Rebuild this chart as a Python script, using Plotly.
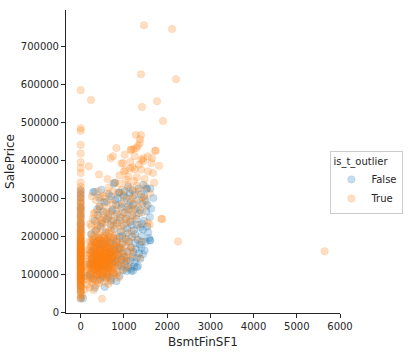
import plotly.graph_objects as go

# ---------------- data ----------------
# houses with BsmtFinSF1 == 0
blue_zero_y = [36000, 55000, 68000, 85000, 96000, 104000, 117000, 129000, 137000, 149000,
               157000, 166000, 179000, 187000, 196000, 209000, 217000, 229000, 236000, 249000,
               257000, 269000, 276000, 289000, 301000, 311000, 320000]
orange_zero_y = [35000, 40000, 46000, 52000, 58000, 61000, 64000, 67000, 70000, 73000, 75000,
                 78000, 80000, 82000, 84000, 86000, 88000, 90000, 92000, 94000, 96000, 98000,
                 100000, 102000, 104000, 106000, 108000, 110000, 112000, 114000, 115000, 117000,
                 119000, 120000, 122000, 124000, 125000, 127000, 129000, 130000, 132000, 134000,
                 135000, 137000, 139000, 140000, 142000, 144000, 145000, 147000, 149000, 150000,
                 152000, 154000, 155000, 157000, 159000, 160000, 162000, 164000, 165000, 167000,
                 169000, 170000, 172000, 174000, 175000, 177000, 179000, 180000, 182000, 185000,
                 187000, 189000, 192000, 194000, 197000, 200000, 203000, 206000, 209000, 212000,
                 215000, 219000, 223000, 227000, 231000, 235000, 240000, 245000, 250000, 255000,
                 260000, 265000, 270000, 275000, 280000, 285000, 290000, 296000, 302000, 308000,
                 315000, 322000, 330000, 341000, 366000, 379000, 394000, 417000, 440000, 477000,
                 484000, 584000]

# houses with BsmtFinSF1 > 0  (BsmtFinSF1, SalePrice)
blue_points = [
    (54, 36000), (324, 64000), (555, 66000), (826, 81000), (694, 82000), (1173, 108000),
    (1058, 108000), (1211, 109000), (1157, 114000), (1327, 121000), (1443, 152000),
    (1366, 178000), (1404, 169000), (1582, 195000), (1613, 188000), (1597, 189000),
    (1443, 217000), (1505, 293000), (1613, 325000), (1535, 325000), (1520, 324000),
    (478, 322000), (285, 316000), (324, 316000), (787, 340000), (903, 314000), (1018, 318000),
    (864, 300000), (440, 278000),
    (150, 95000), (220, 100000), (280, 88000), (380, 97000), (450, 85000), (520, 92000),
    (610, 98000), (700, 90000), (780, 102000), (900, 95000), (980, 110000), (1100, 118000),
    (200, 125000), (300, 130000), (400, 118000), (480, 140000), (560, 126000), (640, 135000),
    (720, 128000), (800, 132000), (860, 122000), (950, 138000), (1020, 127000), (1150, 135000),
    (1250, 130000), (1300, 142000),
    (250, 160000), (350, 150000), (450, 165000), (550, 155000), (620, 170000), (700, 158000),
    (780, 162000), (850, 150000), (920, 168000), (980, 155000), (1080, 160000), (1160, 170000),
    (1220, 158000), (1280, 165000), (1350, 155000), (1480, 162000),
    (300, 185000), (420, 195000), (520, 178000), (600, 190000), (680, 182000), (760, 195000),
    (830, 185000), (900, 198000), (970, 180000), (1040, 192000), (1120, 185000), (1190, 198000),
    (1260, 182000), (1320, 190000), (1410, 200000), (1500, 185000),
    (350, 215000), (460, 225000), (580, 210000), (690, 230000), (770, 218000), (850, 235000),
    (930, 212000), (1000, 228000), (1080, 220000), (1150, 238000), (1230, 215000),
    (1300, 230000), (1380, 222000), (1460, 240000), (1540, 225000),
    (400, 255000), (520, 265000), (640, 250000), (740, 270000), (840, 258000), (940, 275000),
    (1020, 262000), (1110, 280000), (1190, 255000), (1270, 272000), (1350, 260000),
    (1430, 285000), (1520, 265000), (1600, 250000),
    (600, 290000), (700, 305000), (800, 295000), (950, 285000), (1060, 300000), (1150, 290000),
    (1240, 308000), (1320, 295000), (1400, 310000), (1680, 300000),
    (760, 338000), (1100, 330000), (1200, 320000), (1450, 335000),
    (250, 205000), (320, 240000), (380, 270000), (430, 300000), (490, 235000), (540, 290000),
    (590, 245000), (650, 310000), (710, 265000), (760, 240000), (820, 282000), (880, 315000),
    (920, 248000), (990, 305000), (1050, 245000), (1100, 270000), (1130, 312000),
    (1180, 228000), (1210, 282000), (1290, 245000), (1340, 325000), (1370, 268000),
    (1420, 232000), (1470, 305000), (1550, 282000), (1630, 272000), (1560, 210000),
    (1260, 205000), (1090, 208000), (960, 200000),
    (260, 140000), (330, 170000), (390, 135000), (440, 180000), (500, 120000), (560, 145000),
    (620, 115000), (660, 155000), (720, 140000), (780, 175000), (840, 140000), (880, 165000),
    (940, 120000), (1010, 145000), (1060, 135000), (1200, 145000), (1240, 120000),
    (1380, 140000), (1300, 118000), (1420, 185000),
]

orange_points = [
    (493, 35000), (208, 64000), (30, 45000), (150, 72000), (260, 78000), (350, 70000),
    (420, 76000), (560, 79000), (640, 74000), (90, 60000), (300, 58000),
    (100, 88000), (180, 84000), (240, 92000), (290, 86000), (330, 95000), (390, 82000),
    (450, 90000), (510, 97000), (580, 88000), (650, 93000), (720, 85000), (820, 98000),
    (60, 94000), (410, 99000),
    (120, 105000), (170, 112000), (220, 108000), (260, 116000), (300, 102000), (340, 110000),
    (380, 118000), (420, 104000), (460, 113000), (500, 107000), (540, 119000), (590, 101000),
    (640, 114000), (700, 109000), (760, 117000), (850, 103000), (950, 112000), (280, 119000),
    (440, 101000), (620, 106000), (520, 115000), (360, 114000), (680, 118000), (1050, 115000),
    (130, 125000), (190, 132000), (230, 121000), (270, 138000), (310, 127000), (350, 134000),
    (390, 123000), (430, 139000), (470, 128000), (510, 131000), (550, 122000), (590, 136000),
    (630, 126000), (680, 133000), (730, 121000), (790, 137000), (880, 129000), (1000, 135000),
    (1100, 124000), (250, 129000), (330, 122000), (410, 131000), (490, 137000), (570, 129000),
    (610, 133000), (450, 124000), (370, 128000), (530, 136000), (660, 139000), (210, 127000),
    (1366, 143000),
    (150, 148000), (200, 155000), (250, 142000), (290, 151000), (330, 158000), (370, 144000),
    (410, 153000), (450, 147000), (490, 159000), (530, 141000), (570, 152000), (610, 146000),
    (650, 157000), (700, 143000), (750, 154000), (820, 149000), (900, 158000), (1050, 145000),
    (1200, 152000), (270, 146000), (350, 149000), (430, 156000), (510, 150000), (590, 143000),
    (470, 152000), (550, 158000), (630, 148000), (390, 141000), (310, 155000), (680, 151000),
    (720, 147000), (1404, 186000),
    (170, 165000), (230, 172000), (280, 161000), (330, 176000), (380, 168000), (430, 163000),
    (480, 174000), (530, 167000), (580, 179000), (630, 162000), (690, 171000), (750, 165000),
    (820, 177000), (920, 169000), (1040, 173000), (1150, 164000), (310, 169000), (400, 178000),
    (460, 166000), (510, 172000), (560, 162000), (600, 170000), (660, 176000), (250, 178000),
    (710, 161000),
    (200, 186000), (270, 193000), (340, 182000), (410, 197000), (470, 188000), (540, 195000),
    (610, 184000), (680, 191000), (760, 198000), (850, 183000), (960, 194000), (1100, 189000),
    (1250, 196000), (300, 190000), (380, 186000), (500, 183000), (580, 192000), (640, 199000),
    (440, 191000),
    (240, 205000), (330, 212000), (420, 203000), (510, 216000), (600, 208000), (700, 214000),
    (800, 202000), (920, 218000), (1050, 207000), (1180, 213000), (380, 219000), (560, 201000),
    (650, 210000),
    (250, 226000), (380, 238000), (500, 231000), (620, 245000), (760, 228000), (900, 241000),
    (1050, 234000), (1200, 247000), (1350, 229000), (1550, 236000), (1597, 230000),
    (1867, 245000), (440, 249000), (700, 222000),
    (300, 258000), (450, 271000), (600, 262000), (750, 285000), (900, 255000), (1050, 276000),
    (1200, 265000), (1380, 290000), (1520, 279000), (350, 295000), (1150, 298000),
    (820, 268000), (560, 288000), (1000, 292000),
    (520, 305000), (600, 312000), (748, 318000), (1000, 308000), (1150, 325000), (1300, 333000),
    (1420, 302000), (900, 338000), (1250, 315000),
    (185, 384000), (424, 362000), (748, 410000), (826, 432000), (1018, 414000), (980, 392000),
    (1173, 427000), (1289, 432000), (1366, 445000), (1327, 438000), (1404, 401000),
    (1443, 397000), (1736, 425000), (1636, 392000), (1813, 385000), (1559, 370000),
    (1674, 366000), (1250, 375000), (1100, 357000), (1050, 349000), (1300, 355000),
    (1230, 345000), (1480, 350000), (1200, 381000), (1350, 388000), (1273, 466000),
    (1396, 466000), (1157, 427000), (1227, 429000), (694, 405000), (941, 391000),
    (1141, 378000), (1035, 373000), (1450, 405000), (1650, 405000), (1720, 424000),
    (1373, 455000), (800, 341000),
    (238, 558000), (1419, 540000), (1766, 555000), (1905, 503000), (1396, 626000),
    (2206, 613000), (1465, 755000), (2114, 745000), (5644, 160000), (2252, 186000),
    (1882, 245000),
    (160, 118000), (185, 141000), (205, 163000), (215, 98000), (235, 152000), (245, 185000),
    (255, 134000), (265, 108000), (275, 171000), (285, 127000), (295, 145000), (305, 199000),
    (315, 114000), (325, 139000), (335, 164000), (345, 121000), (355, 182000), (365, 133000),
    (375, 156000), (385, 109000), (395, 172000), (405, 143000), (415, 126000), (425, 188000),
    (435, 150000), (445, 117000), (455, 161000), (465, 135000), (475, 196000), (485, 123000),
    (495, 147000), (505, 169000), (515, 111000), (525, 140000), (535, 184000), (545, 130000),
    (555, 153000), (565, 119000), (575, 174000), (585, 145000), (595, 127000), (605, 163000),
    (615, 139000), (625, 187000), (635, 116000), (645, 151000), (655, 132000), (665, 170000),
    (675, 124000), (685, 158000), (695, 142000), (705, 195000), (715, 112000), (725, 167000),
    (735, 135000), (745, 150000), (755, 181000), (765, 127000), (775, 146000), (785, 171000),
    (795, 119000), (810, 158000), (830, 138000), (845, 192000), (860, 152000), (875, 170000),
    (890, 125000), (910, 146000), (930, 178000), (960, 132000), (990, 160000), (1020, 148000),
    (1070, 185000), (1120, 142000), (1180, 170000),
    (220, 90000), (340, 84000), (470, 96000), (600, 92000), (740, 99000), (880, 91000),
    (380, 103000), (520, 102000), (660, 104000), (300, 112000), (560, 108000), (760, 106000),
    (220, 232000), (280, 245000), (330, 262000), (390, 228000), (430, 278000), (480, 242000),
    (530, 255000), (570, 236000), (630, 272000), (670, 258000), (710, 240000), (780, 252000),
    (830, 233000), (870, 281000), (940, 226000), (980, 263000), (1020, 245000), (1080, 256000),
    (1130, 238000), (1170, 271000), (1230, 285000), (1280, 252000), (1330, 275000),
    (1420, 262000), (1480, 298000), (260, 305000), (400, 318000), (460, 302000), (650, 328000),
    (700, 296000), (850, 312000), (950, 322000), (1080, 335000), (1200, 300000),
    (1350, 318000), (1500, 330000), (1600, 312000), (1700, 340000), (1000, 370000),
    (900, 360000), (1150, 395000), (1550, 410000), (1250, 410000), (620, 350000),
    (1400, 375000),
]

x_ticks = [0, 1000, 2000, 3000, 4000, 5000, 6000]
y_ticks = [0, 100000, 200000, 300000, 400000, 500000, 600000, 700000]

# ---------------- build ----------------
blue_x = [0] * len(blue_zero_y) + [p[0] for p in blue_points]
blue_y = blue_zero_y + [p[1] for p in blue_points]
orange_x = [0] * len(orange_zero_y) + [p[0] for p in orange_points]
orange_y = orange_zero_y + [p[1] for p in orange_points]

BLUE_A = "rgba(31,119,180,0.25)"
ORANGE_A = "rgba(255,127,14,0.25)"
BLUE_E = "rgba(31,119,180,0.2)"
ORANGE_E = "rgba(255,127,14,0.2)"
TXT = "#262626"
FONT = "DejaVu Sans"

fig = go.Figure()
fig.add_trace(go.Scatter(x=blue_x, y=blue_y, mode="markers", name="False",
                         marker=dict(color=BLUE_A, size=7.5, line=dict(width=0.6, color=BLUE_E))))
fig.add_trace(go.Scatter(x=orange_x, y=orange_y, mode="markers", name="True",
                         marker=dict(color=ORANGE_A, size=7.5, line=dict(width=0.6, color=ORANGE_E))))

fig.update_layout(
    width=408, height=352,
    margin=dict(l=66, r=68, t=10, b=39, autoexpand=False),
    plot_bgcolor="white", paper_bgcolor="white",
    font=dict(family=FONT, size=10, color=TXT),
    legend=dict(title=dict(text="is_t_outlier", font=dict(size=10, color=TXT)),
                x=0.965, y=0.535, xanchor="left", yanchor="top",
                bordercolor="#cccccc", borderwidth=1, bgcolor="rgba(255,255,255,0.8)",
                font=dict(size=10, color=TXT), tracegroupgap=0, itemwidth=30),
    showlegend=True,
)
fig.update_xaxes(range=[-340, 6000], tickvals=x_ticks, ticks="outside", ticklen=4,
                 tickcolor=TXT, showline=True, linecolor=TXT, linewidth=1, mirror=False,
                 showgrid=False, zeroline=False, title=dict(text="BsmtFinSF1", standoff=6),
                 tickfont=dict(size=10, color=TXT))
fig.update_yaxes(range=[-2500, 795000], tickvals=y_ticks, tickformat="d", ticks="outside",
                 ticklen=4, tickcolor=TXT, showline=True, linecolor=TXT, linewidth=1,
                 mirror=False, showgrid=False, zeroline=False,
                 title=dict(text="SalePrice", standoff=3), tickfont=dict(size=10, color=TXT))

fig.write_html("out.html")
